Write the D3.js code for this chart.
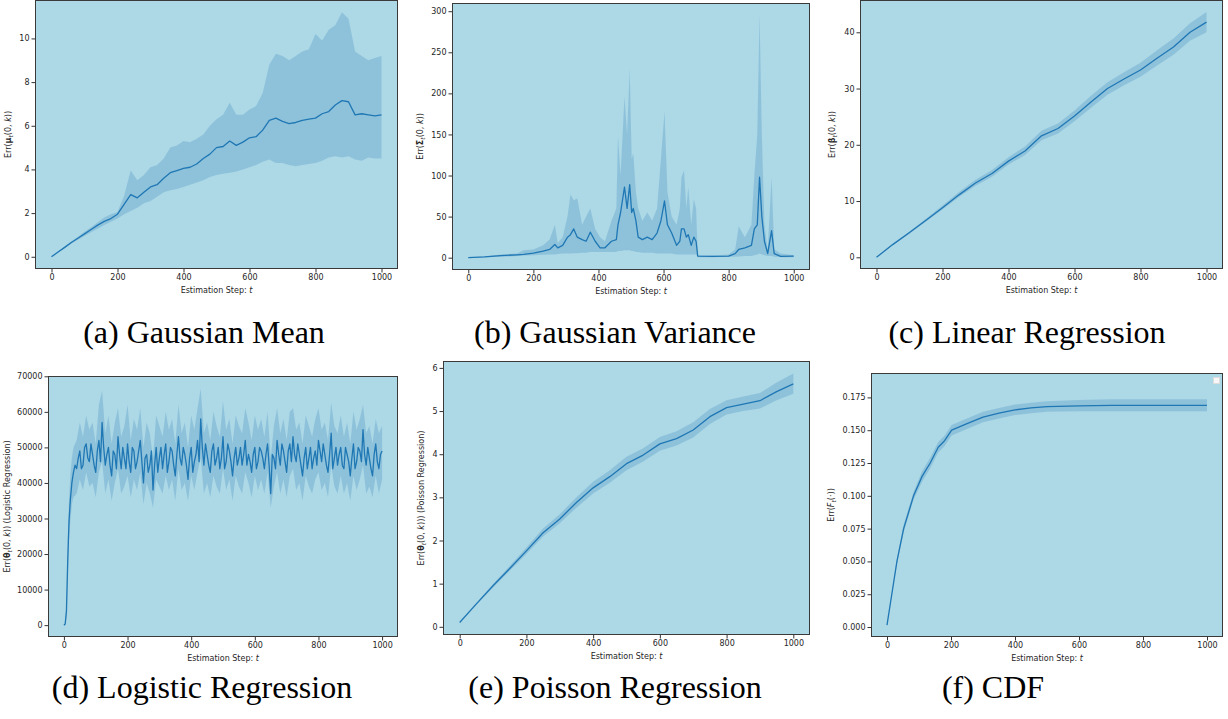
<!DOCTYPE html>
<html>
<head>
<meta charset="utf-8">
<script src="https://cdn.jsdelivr.net/npm/d3@7"></script>
<style>
body { margin: 0; background: #fff; }
svg { display: block; }
.tick text { font-family: "DejaVu Sans", sans-serif; font-size: 8px; fill: #262626; }
.tick line { stroke: #333; }
.lbl { font-family: "DejaVu Sans", sans-serif; font-size: 8px; fill: #262626; }
.cap { font-family: "Liberation Serif", serif; font-size: 32px; fill: #000; }
</style>
</head>
<body>
<svg width="1228" height="719"></svg>
<script>
var xTicks = [0, 200, 400, 600, 800, 1000];

// (a) Gaussian mean
var aSteps = d3.range(0, 1001, 20);
var aMean = [0, 0.22, 0.43, 0.65, 0.85, 1.05, 1.25, 1.45, 1.62, 1.75, 1.95, 2.4, 2.85, 2.7, 2.95, 3.2, 3.3, 3.6, 3.85, 3.95,
  4.05, 4.1, 4.25, 4.5, 4.7, 5.0, 5.05, 5.3, 5.1, 5.25, 5.45, 5.5, 5.8, 6.25, 6.35, 6.2, 6.1, 6.15, 6.25, 6.3,
  6.35, 6.55, 6.65, 6.95, 7.15, 7.1, 6.5, 6.55, 6.5, 6.45, 6.5];
var aHigh = [0, 0.24, 0.47, 0.7, 0.92, 1.15, 1.35, 1.58, 1.8, 1.95, 2.05, 2.8, 3.95, 3.5, 3.75, 4.1, 4.2, 4.5, 5.0, 5.1,
  5.3, 5.25, 5.4, 5.6, 6.0, 6.3, 6.5, 7.05, 6.5, 6.5, 6.75, 6.9, 7.5, 8.8, 9.3, 9.2, 9.0, 9.2, 9.4, 9.5,
  10.2, 9.9, 10.4, 10.6, 11.2, 10.9, 9.4, 9.2, 9.0, 9.1, 9.2];
var aLow = [0, 0.2, 0.4, 0.6, 0.78, 0.95, 1.12, 1.28, 1.45, 1.6, 1.75, 1.95, 2.1, 2.25, 2.45, 2.55, 2.75, 2.95, 3.05, 3.1,
  3.2, 3.3, 3.4, 3.5, 3.65, 3.75, 3.8, 3.85, 3.9, 4.0, 4.1, 4.2, 4.35, 4.45, 4.3, 4.3, 4.2, 4.15, 4.2, 4.25,
  4.3, 4.4, 4.55, 4.6, 4.55, 4.6, 4.45, 4.4, 4.55, 4.5, 4.5];
var aTicks = [0, 2, 4, 6, 8, 10];

// (b) Gaussian variance
var bSteps = [0, 50, 100, 150, 170, 200, 230, 250, 266, 275, 290, 305, 314, 324, 335, 350, 362, 375, 390, 405,
  420, 440, 455, 460, 468, 480, 488, 496, 502, 507, 515, 522, 535, 550, 565, 580, 592, 603, 612, 625,
  640, 650, 655, 663, 670, 676, 685, 693, 700, 705, 750, 800, 820, 831, 850, 870, 879, 888, 895, 902,
  910, 920, 932, 940, 960, 1000];
var bMean = [0, 1, 2.5, 3.5, 4, 5.5, 8, 10, 16, 12, 15, 25, 28, 35, 25, 22, 20, 31, 20, 12,
  12, 20, 22, 40, 55, 86, 60, 89, 55, 60, 45, 25, 22, 25, 22, 30, 45, 69, 40, 30,
  15, 20, 35, 35, 25, 28, 15, 25, 20, 2, 1.5, 2, 5, 10, 12, 15, 35, 40, 98, 50,
  20, 5, 33, 5, 1.5, 2];
var bLow = [0, 0.5, 1, 2, 2.5, 3, 3.5, 4, 4, 4.5, 5, 5, 5, 5.5, 5.5, 6, 6, 7, 7, 7,
  7, 7, 7, 8, 8, 9, 9, 9, 8, 8, 7, 7, 6, 6, 6, 5, 5, 5, 5, 5,
  4, 4, 4, 4, 4, 4, 4, 4, 4, 0.5, 0.5, 1, 1, 1.5, 2, 2, 3, 4, 5, 4,
  3, 2, 2, 1, 0.5, 0.5];
var bHigh = [0, 1.5, 4, 5, 9, 10, 15, 22, 40, 18, 25, 50, 77, 70, 72, 40, 50, 60, 35, 25,
  20, 45, 60, 148, 100, 196, 150, 230, 120, 127, 80, 60, 45, 55, 45, 60, 120, 178, 80, 50,
  40, 60, 98, 106, 60, 86, 40, 71, 60, 3, 2.5, 4, 10, 38, 25, 40, 100, 150, 296, 150,
  40, 10, 98, 10, 5, 3];
var bTicks = [0, 50, 100, 150, 200, 250, 300];

// (c) linear regression
var cSteps = d3.range(0, 1001, 50);
var cMean = [0, 2.3, 4.4, 6.6, 8.8, 11.1, 13.2, 14.9, 17.1, 18.9, 21.6, 22.9, 25.1, 27.6, 30.0, 31.7, 33.3, 35.4, 37.4, 40.0, 41.8];
var cLow = [0, 2.2, 4.2, 6.35, 8.5, 10.7, 12.7, 14.3, 16.5, 18.2, 20.8, 22.0, 24.2, 26.6, 28.9, 30.6, 32.1, 34.1, 36.0, 38.5, 40.0];
var cHigh = [0, 2.4, 4.6, 6.85, 9.2, 11.6, 13.8, 15.5, 17.8, 19.7, 22.5, 23.8, 26.1, 28.7, 31.1, 32.9, 34.6, 36.8, 38.9, 41.6, 43.6];
var cTicks = [0, 10, 20, 30, 40];

// (d) logistic regression, values in thousands
var dSteps = [0, 4, 8, 12, 16, 20, 25, 30, 35].concat(d3.range(40, 1001, 5));
var dMean = [0, 0.3, 4, 18, 29, 35, 40, 43, 45,
  44, 47, 49, 44, 45, 50, 51, 47, 46, 51, 48, 45, 43, 49, 52, 46, 57, 50, 45, 48,
  50, 45, 42, 49, 48, 44, 53, 48, 44, 50, 47, 44, 51, 46, 43, 50, 49, 44, 46, 49,
  52, 46, 40, 47, 48, 43, 45, 49, 38, 45, 50, 43, 47, 50, 44, 48, 51, 43, 46, 50,
  49, 45, 42, 48, 53, 47, 45, 50, 48, 45, 41, 47, 50, 43, 46, 48, 52, 46, 58, 50,
  45, 51, 48, 45, 43, 49, 51, 45, 47, 50, 44, 47, 53, 44, 46, 51, 49, 46, 42, 47,
  50, 45, 47, 50, 45, 48, 52, 45, 48, 46, 43, 48, 50, 44, 46, 50, 49, 47, 44, 48,
  51, 45, 37, 48, 47, 44, 52, 48, 45, 51, 49, 46, 43, 49, 51, 46, 53, 48, 46, 51,
  48, 45, 42, 47, 50, 44, 47, 50, 44, 47, 49, 45, 52, 49, 46, 51, 48, 45, 43, 48,
  54, 44, 47, 50, 45, 48, 50, 45, 44, 50, 48, 46, 42, 47, 51, 44, 46, 50, 49, 46,
  55, 48, 45, 50, 47, 44, 42, 48, 51, 46, 44, 48,
  49];
var dBandSteps = [0, 4, 8, 12, 16, 20, 25, 30].concat(d3.range(40, 1001, 10));
var dHigh = [0, 0.5, 6, 24, 35, 42, 47, 50,
  52, 57, 53, 59, 55, 57, 51, 62, 66, 54, 59, 51, 57, 61, 53, 56,
  62, 52, 58, 55, 61, 50, 57, 54, 47, 59, 56, 53, 60, 55, 58, 51,
  62, 54, 57, 50, 59, 55, 61, 66.5, 54, 57, 52, 60, 56, 53, 63, 55,
  58, 51, 59, 56, 54, 61, 57, 52, 59, 55, 58, 53, 60, 47, 56, 61,
  54, 58, 52, 60, 61, 55, 57, 51, 59, 56, 53, 58, 61, 55, 57, 52,
  62.5, 56, 54, 59, 53, 57, 51, 60, 55, 58, 62, 54, 56, 51, 58, 54, 56];
var dLow = [0, 0.1, 2.5, 13, 24, 29, 34, 36,
  37, 41, 38, 43, 39, 40, 36, 43, 46, 37, 41, 35, 40, 44, 37, 39,
  42, 36, 41, 38, 43, 34, 40, 37, 33, 41, 39, 37, 42, 38, 41, 35,
  44, 38, 40, 35, 42, 38, 43, 47, 37, 40, 36, 42, 39, 37, 44, 38,
  41, 35, 42, 39, 37, 43, 40, 36, 42, 38, 41, 37, 43, 33, 39, 43,
  37, 41, 36, 42, 44, 38, 40, 35, 42, 39, 37, 41, 43, 38, 40, 36,
  45, 39, 37, 42, 37, 40, 35, 42, 38, 41, 45, 37, 39, 36, 42, 37, 41];
var dTicks = [0, 10, 20, 30, 40, 50, 60, 70];

// (e) poisson regression
var eSteps = d3.range(0, 1001, 50);
var eMean = [0.1, 0.53, 0.95, 1.35, 1.76, 2.18, 2.5, 2.88, 3.22, 3.48, 3.78, 3.98, 4.24, 4.36, 4.56, 4.87, 5.08, 5.16, 5.24, 5.45, 5.63];
var eLow = [0.1, 0.51, 0.91, 1.3, 1.69, 2.09, 2.4, 2.76, 3.09, 3.34, 3.63, 3.83, 4.08, 4.2, 4.39, 4.7, 4.92, 5.0, 5.06, 5.25, 5.4];
var eHigh = [0.1, 0.55, 0.99, 1.41, 1.84, 2.28, 2.61, 3.0, 3.36, 3.63, 3.94, 4.14, 4.4, 4.53, 4.74, 5.05, 5.25, 5.34, 5.42, 5.66, 5.87];
var eTicks = [0, 1, 2, 3, 4, 5, 6];

// (f) CDF
var fSteps = [0, 15, 31, 52, 83, 110, 135, 160, 180, 202, 250, 300, 350, 400, 450, 500, 600, 700, 800, 900, 1000];
var fMean = [0.0015, 0.025, 0.05, 0.075, 0.1, 0.115, 0.125, 0.137, 0.142, 0.15, 0.155, 0.16, 0.163, 0.1655, 0.167, 0.168, 0.1685, 0.169, 0.169, 0.169, 0.169];
var fLow = [0.0015, 0.024, 0.048, 0.072, 0.097, 0.111, 0.121, 0.133, 0.138, 0.146, 0.151, 0.156, 0.159, 0.1615, 0.163, 0.164, 0.1645, 0.1645, 0.1645, 0.1645, 0.1645];
var fHigh = [0.0015, 0.026, 0.052, 0.078, 0.103, 0.119, 0.129, 0.141, 0.146, 0.154, 0.159, 0.164, 0.167, 0.1695, 0.171, 0.172, 0.173, 0.1735, 0.1735, 0.1735, 0.1735];
var fTicks = [0, 0.025, 0.05, 0.075, 0.1, 0.125, 0.15, 0.175];

var svg = d3.select("svg");

var panels = [
  {box: [35, 0, 398, 269], yDom: [-0.56, 11.76], steps: aSteps, mean: aMean, low: aLow, high: aHigh, yTicks: aTicks, fmt: d3.format("d"),
   labX: 11, label: [["Err("], ["μ", "b"], ["t", "s"], ["(0, "], ["k", "i"], ["))"]],
   caption: "(a) Gaussian Mean", capX: 204, capY: 343},
  {box: [452, 3, 810, 270], yDom: [-15, 310], steps: bSteps, mean: bMean, low: bLow, high: bHigh, yTicks: bTicks, fmt: d3.format("d"),
   labX: 423, label: [["Err("], ["Σ", "b"], ["t", "s"], ["(0, "], ["k", "i"], ["))"]],
   caption: "(b) Gaussian Variance", capX: 615, capY: 343},
  {box: [860, 0, 1223, 269], yDom: [-2.08, 45.74], steps: cSteps, mean: cMean, low: cLow, high: cHigh, yTicks: cTicks, fmt: d3.format("d"),
   labX: 835, label: [["Err("], ["β", "b"], ["t", "s"], ["(0, "], ["k", "i"], ["))"]],
   caption: "(c) Linear Regression", capX: 1027, capY: 343},
  {box: [48, 376, 398, 637], yDom: [-3.337, 70.087], steps: dSteps, mean: dMean, bandSteps: dBandSteps, low: dLow, high: dHigh,
   yTicks: dTicks, fmt: function(v) { return String(Math.round(v * 1000)); },
   labX: 10, label: [["Err("], ["θ", "b"], ["t", "s"], ["(0, "], ["k", "i"], [")) (Logistic Regression)"]],
   caption: "(d) Logistic Regression", capX: 202, capY: 698},
  {box: [443, 361, 810, 635], yDom: [-0.19, 6.16], steps: eSteps, mean: eMean, low: eLow, high: eHigh, yTicks: eTicks, fmt: d3.format("d"),
   labX: 424, label: [["Err("], ["θ", "b"], ["t", "s"], ["(0, "], ["k", "i"], ["))) (Poisson Regression)"]],
   caption: "(e) Poisson Regression", capX: 615, capY: 698},
  {box: [871, 373, 1223, 637], yDom: [-0.0076, 0.1936], steps: fSteps, mean: fMean, low: fLow, high: fHigh, yTicks: fTicks, fmt: d3.format(".3f"),
   labX: 834, label: [["Err("], ["F", "i"], ["t", "s"], ["(·))"]],
   caption: "(f) CDF", capX: 993, capY: 698, legend: true}
];

panels.forEach(function(p) {
  var x0 = p.box[0], y0 = p.box[1], x1 = p.box[2], y1 = p.box[3];
  var x = d3.scaleLinear().domain([-50, 1050]).range([x0, x1]);
  var y = d3.scaleLinear().domain(p.yDom).range([y1, y0]);
  var g = svg.append("g");

  g.append("rect")
      .attr("x", x0).attr("y", y0)
      .attr("width", x1 - x0).attr("height", y1 - y0)
      .attr("fill", "#add8e6");

  var bandSteps = p.bandSteps || p.steps;
  var band = bandSteps.map(function(t, i) { return {t: t, lo: p.low[i], hi: p.high[i]}; });
  var line = p.steps.map(function(t, i) { return {t: t, m: p.mean[i]}; });

  g.append("path")
      .datum(band)
      .attr("fill", "#1f77b4")
      .attr("fill-opacity", 0.22)
      .attr("d", d3.area()
          .x(function(d) { return x(d.t); })
          .y0(function(d) { return y(d.lo); })
          .y1(function(d) { return y(d.hi); }));

  g.append("path")
      .datum(line)
      .attr("fill", "none")
      .attr("stroke", "#1f77b4")
      .attr("stroke-width", 1.3)
      .attr("stroke-linejoin", "round")
      .attr("d", d3.line()
          .x(function(d) { return x(d.t); })
          .y(function(d) { return y(d.m); }));

  var xa = g.append("g")
      .attr("transform", "translate(0," + y1 + ")")
      .call(d3.axisBottom(x).tickValues(xTicks).tickSize(3.5).tickPadding(2).tickFormat(d3.format("d")));
  xa.select(".domain").remove();

  var ya = g.append("g")
      .attr("transform", "translate(" + x0 + ",0)")
      .call(d3.axisLeft(y).tickValues(p.yTicks).tickSize(3.5).tickPadding(2).tickFormat(p.fmt));
  ya.select(".domain").remove();

  g.append("rect")
      .attr("x", x0 + 0.5).attr("y", y0 + 0.5)
      .attr("width", x1 - x0 - 1).attr("height", y1 - y0 - 1)
      .attr("fill", "none")
      .attr("stroke", "#3a3a3a")
      .attr("stroke-width", 1);

  var xl = g.append("text")
      .attr("class", "lbl")
      .attr("x", (x0 + x1) / 2)
      .attr("y", y1 + 24)
      .attr("text-anchor", "middle");
  xl.append("tspan").text("Estimation Step: ");
  xl.append("tspan").attr("font-style", "italic").text("t");

  var yl = g.append("text")
      .attr("class", "lbl")
      .attr("text-anchor", "middle")
      .attr("transform", "translate(" + p.labX + "," + (y0 + y1) / 2 + ") rotate(-90)");
  p.label.forEach(function(part, i) {
    var ts = yl.append("tspan").text(part[0]);
    if (part[1] === "b") ts.attr("font-weight", "bold");
    if (part[1] === "i") ts.attr("font-style", "italic");
    if (part[1] === "s") ts.attr("font-size", "6px").attr("font-style", "italic").attr("dy", 2);
    if (i > 0 && p.label[i - 1][1] === "s") ts.attr("dy", -2);
  });

  if (p.legend) {
    g.append("rect")
        .attr("x", x1 - 9.5).attr("y", y0 + 4.5)
        .attr("width", 6).attr("height", 6)
        .attr("fill", "#f7f7f7")
        .attr("stroke", "#dddddd");
  }

  svg.append("text")
      .attr("class", "cap")
      .attr("x", p.capX)
      .attr("y", p.capY)
      .attr("text-anchor", "middle")
      .text(p.caption);
});
</script>
</body>
</html>
